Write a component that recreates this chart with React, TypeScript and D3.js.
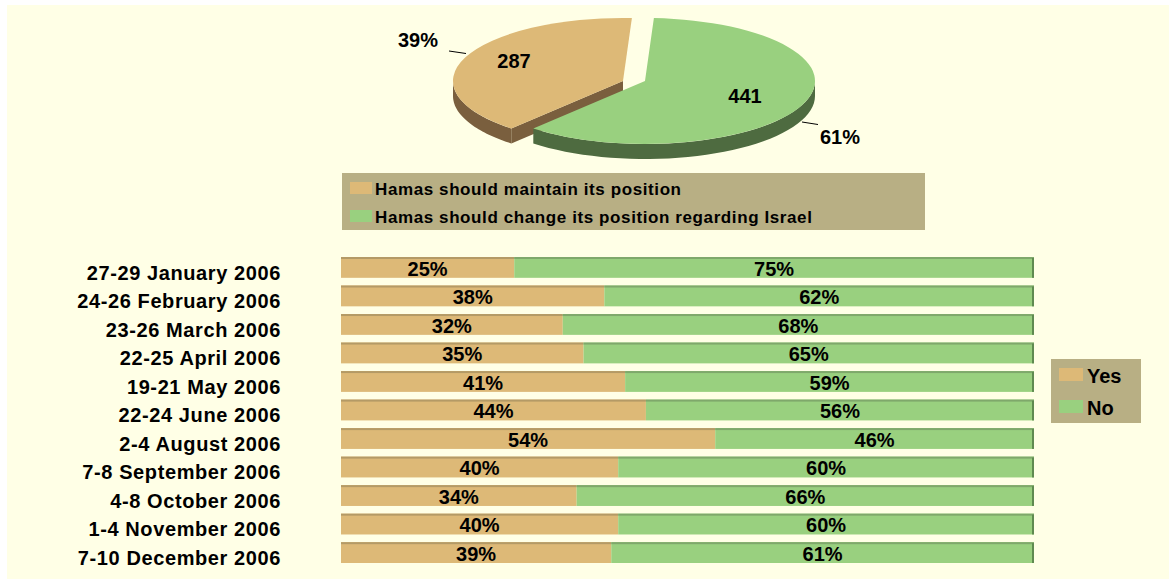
import React from "react";
import * as d3 from "d3";

// pie: opinion on Hamas position
const pieLabels = ["Hamas should change its position regarding Israel", "Hamas should maintain its position"];
const pieCounts = [441, 287];
const piePercents = ["61%", "39%"];

// bars: survey rounds
const categories = [
  "27-29 January 2006",
  "24-26 February 2006",
  "23-26 March 2006",
  "22-25 April 2006",
  "19-21 May 2006",
  "22-24 June 2006",
  "2-4 August 2006",
  "7-8 September 2006",
  "4-8 October 2006",
  "1-4 November 2006",
  "7-10 December 2006",
];
const yesValues = [25, 38, 32, 35, 41, 44, 54, 40, 34, 40, 39];
const noValues = [75, 62, 68, 65, 59, 56, 46, 60, 66, 60, 61];
const seriesNames = ["Yes", "No"];

const W = 1169;
const H = 579;
const FONT = "'Liberation Sans', Arial, sans-serif";

const TAN = "#ddb977";
const GREEN = "#99d07f";
const TAN_SIDE = "#7a5f3e";
const GREEN_SIDE = "#4e6b40";
const LEGEND_BG = "#b8af84";
const BG = "#ffffe6";

const RX = 170;
const RY = 63;
const DEPTH = 15;

const pt = (cx: number, cy: number, a: number, dy = 0): [number, number] => [
  cx + RX * Math.sin(a),
  cy - RY * Math.cos(a) + dy,
];

// outer side wall for the visible (front) part of an arc
const outerWall = (cx: number, cy: number, a0: number, a1: number) => {
  const lo = Math.max(a0, Math.PI / 2);
  const hi = Math.min(a1, (3 * Math.PI) / 2);
  if (hi <= lo) return null;
  const steps = d3.range(0, 41).map((i) => lo + ((hi - lo) * i) / 40);
  const top = steps.map((a) => pt(cx, cy, a));
  const bottom = steps.map((a) => pt(cx, cy, a, DEPTH)).reverse();
  return d3.line()([...top, ...bottom]) + "Z";
};

const radialWall = (cx: number, cy: number, a: number) => {
  const p = pt(cx, cy, a);
  return d3.line()([[cx, cy], p, [p[0], p[1] + DEPTH], [cx, cy + DEPTH]]) + "Z";
};

const App = () => {
  const pie = d3
    .pie<number>()
    .sort(null)
    .startAngle((3 * Math.PI) / 180)
    .endAngle((363 * Math.PI) / 180)(pieCounts);
  const arc = d3.arc<d3.PieArcDatum<number>>().innerRadius(0).outerRadius(RX);

  const centers: [number, number][] = [
    [645, 81],
    [623, 81],
  ];
  const tops = [GREEN, TAN];
  const sides = [GREEN_SIDE, TAN_SIDE];

  // bars
  const x = d3.scaleLinear().domain([0, 100]).range([341, 1034]);
  const y = d3.scaleBand().domain(categories).range([257, 563]).paddingInner(0.27).paddingOuter(0);
  const bh = y.bandwidth();

  const stacked = categories.map((c, i) => ({
    cat: c,
    segs: [
      { key: "Yes", x0: 0, x1: yesValues[i], v: yesValues[i], fill: TAN, edge: "#b49a66" },
      { key: "No", x0: yesValues[i], x1: yesValues[i] + noValues[i], v: noValues[i], fill: GREEN, edge: "#7fa86b" },
    ],
  }));

  return (
    <div style={{ position: "absolute", left: 0, top: 0 }}>
      <svg width={W} height={H} style={{ display: "block" }} fontFamily={FONT}>
        <rect x={0} y={0} width={W} height={H} fill="#ffffff" />
        <rect x={7} y={5} width={W - 7} height={H - 5} fill={BG} />

        {/* 3D pie: tan slice first (behind), then green */}
        {[1, 0].map((i) => {
          const d = pie[i];
          const [cx, cy] = centers[i];
          const wall = outerWall(cx, cy, d.startAngle, d.endAngle);
          return (
            <g key={i}>
              {i === 1 && <path d={radialWall(cx, cy, d.startAngle)} fill={sides[i]} />}
              {wall && <path d={wall} fill={sides[i]} />}
              <g transform={`translate(${cx},${cy}) scale(1,${RY / RX})`}>
                <path d={arc(d) || ""} fill={tops[i]} />
              </g>
            </g>
          );
        })}
        <text x={514} y={68} fontSize={20} fontWeight="bold" textAnchor="middle">{pieCounts[1]}</text>
        <text x={745} y={103} fontSize={20} fontWeight="bold" textAnchor="middle">{pieCounts[0]}</text>
        <line x1={449} y1={51} x2={466} y2={53.5} stroke="#000" strokeWidth={1} />
        <text x={418} y={47} fontSize={20} fontWeight="bold" textAnchor="middle">{piePercents[1]}</text>
        <line x1={802} y1={122} x2={818} y2={124.5} stroke="#000" strokeWidth={1} />
        <text x={840} y={144} fontSize={20} fontWeight="bold" textAnchor="middle">{piePercents[0]}</text>

        {/* pie legend */}
        <rect x={342} y={173} width={583} height={57} fill={LEGEND_BG} />
        {[pieLabels[1], pieLabels[0]].map((lab, i) => (
          <g key={lab} transform={`translate(350,${182 + i * 28})`}>
            <rect x={0} y={0} width={22} height={12} fill={i === 0 ? TAN : GREEN} />
            <text x={25} y={12.5} fontSize={17} fontWeight="bold" letterSpacing={0.6}>{lab}</text>
          </g>
        ))}

        {/* stacked bars */}
        {stacked.map((row) => {
          const y0 = y(row.cat) as number;
          return (
            <g key={row.cat}>
              {row.segs.map((s) => (
                <g key={s.key}>
                  <rect x={x(s.x0)} y={y0} width={x(s.x1) - x(s.x0)} height={bh} fill={s.fill} />
                  <rect x={x(s.x0)} y={y0} width={x(s.x1) - x(s.x0)} height={2} fill={s.edge} />
                  <text
                    x={(x(s.x0) + x(s.x1)) / 2}
                    y={y0 + bh - 2}
                    fontSize={20}
                    fontWeight="bold"
                    textAnchor="middle"
                  >
                    {s.v}%
                  </text>
                </g>
              ))}
              <rect x={x(100) - 2} y={y0 + 1} width={2} height={bh - 1} fill="#5f8a50" />
              <text x={281} y={y0 + bh + 2} fontSize={20} fontWeight="bold" textAnchor="end" letterSpacing={0.6}>
                {row.cat}
              </text>
            </g>
          );
        })}

        {/* bar legend */}
        <rect x={1051} y={359} width={90} height={64} fill={LEGEND_BG} />
        {seriesNames.map((n, i) => (
          <g key={n} transform={`translate(1059,${368 + i * 32})`}>
            <rect x={0} y={0} width={24} height={13} fill={i === 0 ? TAN : GREEN} />
            <text x={28} y={15} fontSize={20} fontWeight="bold">{n}</text>
          </g>
        ))}
      </svg>
    </div>
  );
};

export default App;
